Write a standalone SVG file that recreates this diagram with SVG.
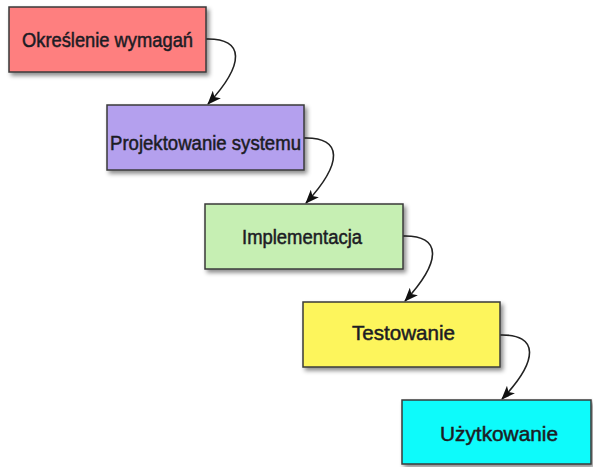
<svg xmlns="http://www.w3.org/2000/svg" width="593" height="467" viewBox="0 0 593 467">
<style>
.box{stroke:#3a3a3a;stroke-width:1.5;filter:url(#sh)}
.lbl{font-family:"Liberation Sans",Arial,sans-serif;fill:#1c1c24;stroke:#1c1c24;stroke-width:0.5;text-anchor:middle}
.con{fill:none;stroke:#222;stroke-width:1.6;marker-end:url(#arr)}
</style>
<defs>
<filter id="sh" x="-10%" y="-10%" width="130%" height="140%">
<feDropShadow dx="2.5" dy="3" stdDeviation="2" flood-color="#000" flood-opacity="0.45"/>
</filter>
<marker id="arr" viewBox="0 0 14 11" refX="13" refY="5.5" markerWidth="14" markerHeight="11" markerUnits="userSpaceOnUse" orient="auto">
<path d="M0,0 L14,5.5 L0,11 L3.5,5.5 Z" fill="#111"/>
</marker>
</defs>
<rect width="593" height="467" fill="#fff"/>
<g id="connectors">
<path class="con" d="M206,39 C245,38 245,64 208,104"/>
<path class="con" d="M304,138 C343,137 343,163 306,203"/>
<path class="con" d="M403,236 C442,235 442,261 405,301"/>
<path class="con" d="M500,335 C539,334 539,360 502,399"/>
</g>
<g id="n1">
<rect class="box" x="9" y="7" width="197" height="65" fill="#fe7f7f"/>
<text class="lbl" x="107.5" y="46.5" font-size="20.5" textLength="171" lengthAdjust="spacingAndGlyphs">Określenie wymagań</text>
</g>
<g id="n2">
<rect class="box" x="107" y="105" width="197" height="65" fill="#b4a0ee"/>
<text class="lbl" x="205.5" y="150" font-size="20" textLength="191" lengthAdjust="spacingAndGlyphs">Projektowanie systemu</text>
</g>
<g id="n3">
<rect class="box" x="205" y="204" width="198" height="65" fill="#c6efb3"/>
<text class="lbl" x="302" y="243.5" font-size="19.5" textLength="120" lengthAdjust="spacingAndGlyphs">Implementacja</text>
</g>
<g id="n4">
<rect class="box" x="303" y="302" width="197" height="65" fill="#fdf55b"/>
<text class="lbl" x="403.5" y="340" font-size="21" textLength="103" lengthAdjust="spacingAndGlyphs">Testowanie</text>
</g>
<g id="n5">
<rect class="box" x="402" y="400" width="189" height="64" fill="#11fbfb"/>
<text class="lbl" x="499" y="440.5" font-size="21" textLength="118" lengthAdjust="spacingAndGlyphs">Użytkowanie</text>
</g>
</svg>
